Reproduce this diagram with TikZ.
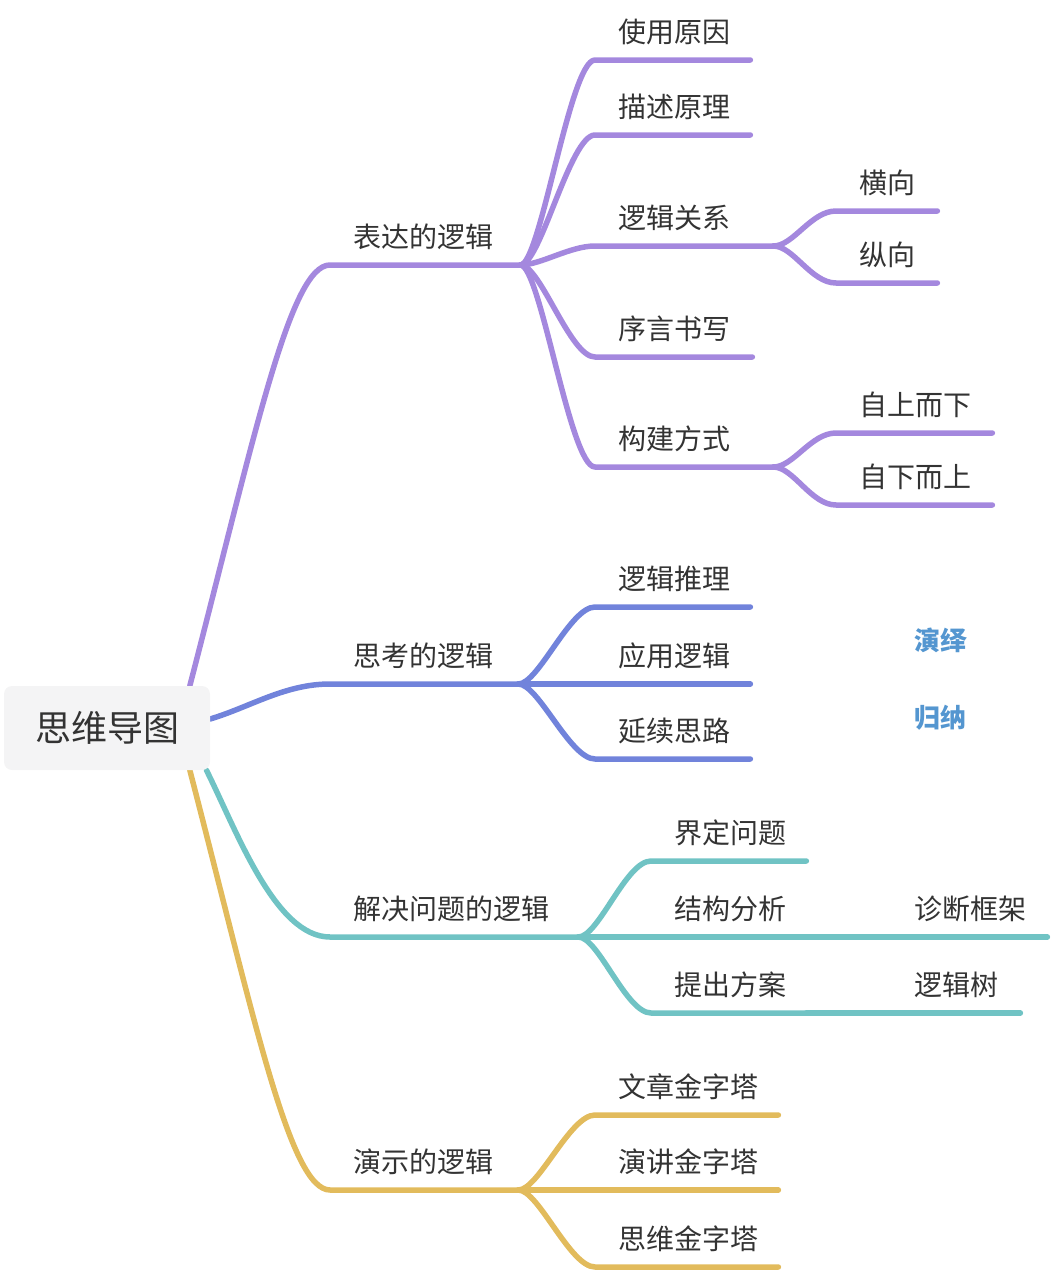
\documentclass[tikz,border=0pt]{standalone}
\usepackage{fontspec}
\setmainfont{Noto Sans CJK SC}
\usetikzlibrary{backgrounds}
\definecolor{ink}{RGB}{51,51,51}
\definecolor{rootbg}{RGB}{244,244,245}
\definecolor{exprcol}{RGB}{164,136,222}
\definecolor{thinkcol}{RGB}{113,131,219}
\definecolor{solvecol}{RGB}{112,195,196}
\definecolor{democol}{RGB}{226,187,92}
\definecolor{notecol}{RGB}{84,150,208}
\tikzset{
  rootnode/.style={fill=rootbg, rounded corners=8pt, minimum width=206pt, minimum height=84pt,
    inner sep=0pt, font=\fontsize{36}{40}\selectfont, text=ink},
  topic/.style={font=\fontsize{28}{34}\selectfont, text=ink, anchor=south west, inner sep=0pt,
    text width=#1, align=left, text height=24pt, text depth=17pt,
    execute at begin node={\hspace*{23pt}}},
  note/.style={font=\fontsize{26}{30}\selectfont\bfseries, text=notecol, inner sep=0pt},
  branch/.style={line width=5.5pt, line cap=round, line join=round},
  exprbr/.style={branch, draw=exprcol},
  thinkbr/.style={branch, draw=thinkcol},
  solvebr/.style={branch, draw=solvecol},
  demobr/.style={branch, draw=democol},
}

\begin{document}
\begin{tikzpicture}[x=1pt,y=-1pt]
  \useasboundingbox (0,0) rectangle (1050,1272);
  % --- central topic ---
  \node[rootnode] (root) at (107,728) {思维导图};

  % ===== 表达的逻辑 =====
  \node[topic=190pt] (expr) at (330,265) {表达的逻辑};
  \node[topic=155pt] (reason) at (595,60) {使用原因};
  \node[topic=155pt] (principle) at (595,135) {描述原理};
  \node[topic=178pt] (relation) at (595,246) {逻辑关系};
  \node[topic=101pt] (horiz) at (836,211) {横向};
  \node[topic=101pt] (vert) at (836,283) {纵向};
  \node[topic=157pt] (preface) at (595,357) {序言书写};
  \node[topic=178pt] (build) at (595,467) {构建方式};
  \node[topic=156pt] (topdown) at (836,433) {自上而下};
  \node[topic=156pt] (bottomup) at (836,505) {自下而上};

  % ===== 思考的逻辑 =====
  \node[topic=188pt] (think) at (330,684) {思考的逻辑};
  \node[topic=155pt] (reasoning) at (595,607) {逻辑推理};
  \node[topic=155pt] (apply) at (595,684) {应用逻辑};
  \node[topic=155pt] (extend) at (595,759) {延续思路};
  \node[note] (deduct) at (940,640) {演绎};
  \node[note] (induct) at (940,718) {归纳};

  % ===== 解决问题的逻辑 =====
  \node[topic=248pt] (solve) at (330,937) {解决问题的逻辑};
  \node[topic=155pt] (define) at (651,861) {界定问题};
  \node[topic=155pt] (analyse) at (651,937) {结构分析};
  \node[topic=156pt] (diagnose) at (891,937) {诊断框架};
  \node[topic=155pt] (propose) at (651,1013) {提出方案};
  \node[topic=129pt] (tree) at (891,1013) {逻辑树};

  % ===== 演示的逻辑 =====
  \node[topic=188pt] (demo) at (330,1190) {演示的逻辑};
  \node[topic=183pt] (article) at (595,1115) {文章金字塔};
  \node[topic=183pt] (speech) at (595,1190) {演讲金字塔};
  \node[topic=183pt] (mind) at (595,1267) {思维金字塔};

  % --- branches (behind the central topic) ---
  \begin{scope}[on background layer]
    \draw[exprbr] (root.27) .. controls +(65,-250) and +(-40,0) .. (expr.south west) -- (expr.south east);
    \draw[exprbr] (expr.south east) .. controls +(20,0) and +(-25,0) .. (reason.south west) -- (reason.south east);
    \draw[exprbr] (expr.south east) .. controls +(20,0) and +(-25,0) .. (principle.south west) -- (principle.south east);
    \draw[exprbr] (expr.south east) .. controls +(20,0) and +(-25,0) .. (relation.south west) -- (relation.south east);
    \draw[exprbr] (expr.south east) .. controls +(20,0) and +(-25,0) .. (preface.south west) -- (preface.south east);
    \draw[exprbr] (expr.south east) .. controls +(20,0) and +(-25,0) .. (build.south west) -- (build.south east);
    \draw[exprbr] (relation.south east) .. controls +(20,0) and +(-25,0) .. (horiz.south west) -- (horiz.south east);
    \draw[exprbr] (relation.south east) .. controls +(20,0) and +(-25,0) .. (vert.south west) -- (vert.south east);
    \draw[exprbr] (build.south east) .. controls +(20,0) and +(-25,0) .. (topdown.south west) -- (topdown.south east);
    \draw[exprbr] (build.south east) .. controls +(20,0) and +(-25,0) .. (bottomup.south west) -- (bottomup.south east);

    \draw[thinkbr] (root.5) .. controls +(40,-12) and +(-45,0) .. (think.south west) -- (think.south east);
    \draw[thinkbr] (think.south east) .. controls +(20,0) and +(-25,0) .. (reasoning.south west) -- (reasoning.south east);
    \draw[thinkbr] (think.south east) .. controls +(20,0) and +(-25,0) .. (apply.south west) -- (apply.south east);
    \draw[thinkbr] (think.south east) .. controls +(20,0) and +(-25,0) .. (extend.south west) -- (extend.south east);

    \draw[solvebr] (root.-23) .. controls +(30,60) and +(-55,0) .. (solve.south west) -- (solve.south east);
    \draw[solvebr] (solve.south east) .. controls +(20,0) and +(-25,0) .. (define.south west) -- (define.south east);
    \draw[solvebr] (solve.south east) .. controls +(20,0) and +(-25,0) .. (analyse.south west) -- (analyse.south east);
    \draw[solvebr] (solve.south east) .. controls +(20,0) and +(-25,0) .. (propose.south west) -- (propose.south east);
    \draw[solvebr] (analyse.south east) -- (diagnose.south west) -- (diagnose.south east);
    \draw[solvebr] (propose.south east) -- (tree.south west) -- (tree.south east);

    \draw[demobr] (root.-27) .. controls +(65,250) and +(-40,0) .. (demo.south west) -- (demo.south east);
    \draw[demobr] (demo.south east) .. controls +(20,0) and +(-25,0) .. (article.south west) -- (article.south east);
    \draw[demobr] (demo.south east) .. controls +(20,0) and +(-25,0) .. (speech.south west) -- (speech.south east);
    \draw[demobr] (demo.south east) .. controls +(20,0) and +(-25,0) .. (mind.south west) -- (mind.south east);
  \end{scope}
\end{tikzpicture}
\end{document}
